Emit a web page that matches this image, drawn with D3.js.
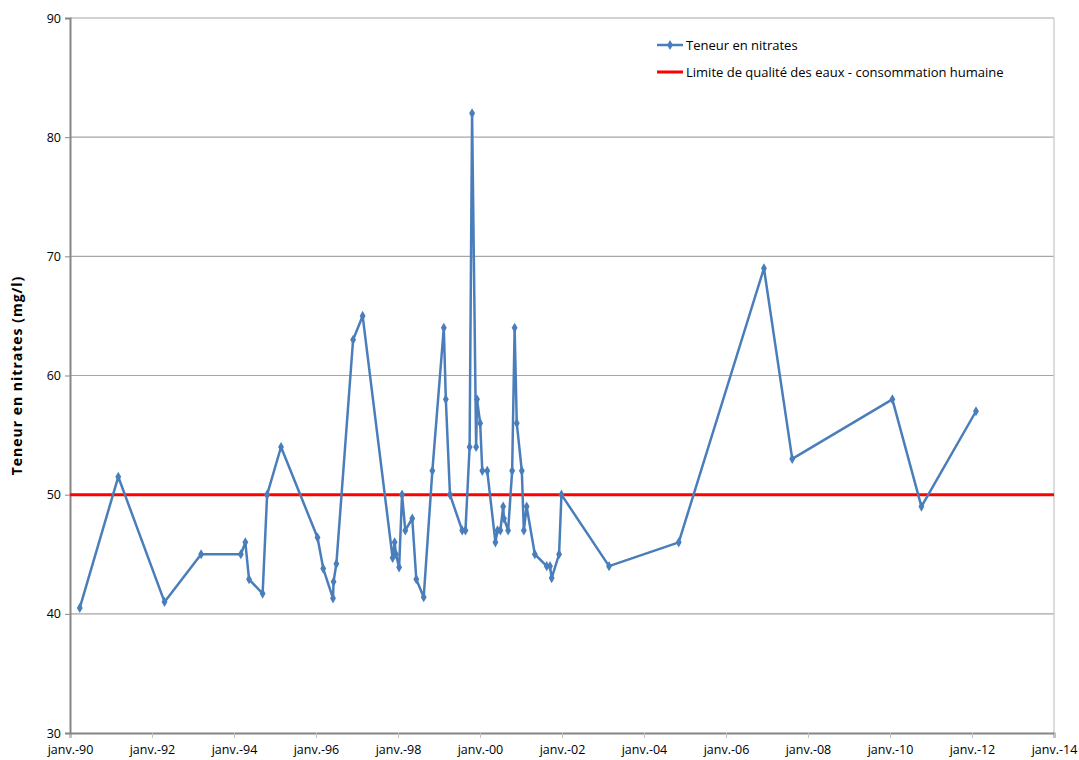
<!DOCTYPE html>
<html>
<head>
<meta charset="utf-8">
<script src="https://cdn.jsdelivr.net/npm/d3@7"></script>
<style>
  body { margin: 0; background: #fff; }
  svg text { font-family: "Open Sans", "DejaVu Sans", sans-serif; fill: #000; }
</style>
</head>
<body>
<svg id="chart" width="1079" height="760"></svg>
<script>
// relevés de nitrates (date, mg/l)
var dates = ["1990-03-29","1991-03-07","1992-04-22","1993-03-14","1994-03-03","1994-04-12","1994-05-15",
  "1994-09-13","1994-10-23","1995-02-24","1996-01-15","1996-03-06","1996-06-01","1996-06-06","1996-07-01",
  "1996-11-27","1997-02-20","1997-11-14","1997-12-02","1997-12-14","1998-01-11","1998-02-06","1998-03-07",
  "1998-05-08","1998-06-13","1998-08-18","1998-11-03","1999-02-13","1999-03-03","1999-04-09","1999-07-27",
  "1999-08-25","1999-10-01","1999-10-23","1999-11-28","1999-12-06","2000-01-03","2000-01-22","2000-03-06",
  "2000-05-18","2000-06-05","2000-07-01","2000-07-26","2000-08-02","2000-09-08","2000-10-14","2000-11-05",
  "2000-11-24","2001-01-08","2001-01-26","2001-02-20","2001-05-04","2001-08-18","2001-09-16","2001-10-01",
  "2001-12-06","2001-12-27","2003-02-24","2004-11-06","2006-12-05","2007-08-14","2010-01-22","2010-10-08",
  "2012-02-06"];
var nitrates = [40.5,51.5,41,45,45,46,42.9,
  41.7,50,54,46.4,43.8,41.3,42.7,44.2,
  63,65,44.7,46,45,43.9,50,47,
  48,42.9,41.4,52,64,58,50,47,
  47,54,82,54,58,56,52,52,
  46,47,47,49,48,47,52,64,
  56,52,47,49,45,44,44,43,
  45,50,44,46,69,53,58,49,
  57];
var limite = 50;
var yTicks = [30, 40, 50, 60, 70, 80, 90];
var seriesNames = ["Teneur en nitrates", "Limite de qualité des eaux - consommation humaine"];

var parse = d3.timeParse("%Y-%m-%d");
var data = dates.map(function (d, i) { return { date: parse(d), value: nitrates[i] }; });

var margin = { left: 70, right: 25, top: 18, bottom: 27 };
var svg = d3.select('#chart');
var W = +svg.attr('width'), H = +svg.attr('height');

var x = d3.scaleTime()
  .domain([new Date(1990, 0, 1), new Date(2014, 0, 1)])
  .range([margin.left, W - margin.right]);
var y = d3.scaleLinear()
  .domain([30, 90])
  .range([H - margin.bottom, margin.top]);

var fmtMois = function (d) { return "janv.-" + d3.timeFormat("%y")(d); };

// grille horizontale
svg.append('g').selectAll('line')
  .data(yTicks.slice(1))
  .enter().append('line')
  .attr('x1', margin.left).attr('x2', W - margin.right)
  .attr('y1', function (d) { return y(d); }).attr('y2', function (d) { return y(d); })
  .attr('stroke', '#a6a6a6').attr('stroke-width', 1.2);

// bord droit
svg.append('line')
  .attr('x1', W - margin.right).attr('x2', W - margin.right)
  .attr('y1', y(90)).attr('y2', y(30))
  .attr('stroke', '#d0d0d0').attr('stroke-width', 1.5);

// axes
var xAxis = svg.append('g')
  .attr('transform', 'translate(0,' + y(30) + ')')
  .call(d3.axisBottom(x).ticks(d3.timeYear.every(2)).tickFormat(fmtMois).tickSize(5).tickPadding(7));
var yAxis = svg.append('g')
  .attr('transform', 'translate(' + margin.left + ',0)')
  .call(d3.axisLeft(y).tickValues(yTicks).tickSize(5).tickPadding(4));

[xAxis, yAxis].forEach(function (a) {
  a.select('.domain').attr('stroke', '#868686').attr('stroke-width', 2);
  a.selectAll('.tick line').attr('stroke', '#868686');
  a.selectAll('.tick text').style('font-size', '12.5px');
});
xAxis.selectAll('.tick line').attr('stroke', '#c0c0c0');

svg.append('text')
  .attr('transform', 'translate(22,' + ((y(30) + y(90)) / 2) + ') rotate(-90)')
  .attr('text-anchor', 'middle')
  .style('font-size', '14px')
  .style('font-weight', 'bold')
  .style('letter-spacing', '1px')
  .text("Teneur en nitrates (mg/l)");

// limite 50 mg/l
svg.append('line')
  .attr('x1', margin.left).attr('x2', W - margin.right)
  .attr('y1', y(limite)).attr('y2', y(limite))
  .attr('stroke', '#ff0000').attr('stroke-width', 3);

// série
var line = d3.line()
  .x(function (d) { return x(d.date); })
  .y(function (d) { return y(d.value); });

svg.append('path')
  .datum(data)
  .attr('d', line)
  .attr('fill', 'none')
  .attr('stroke', '#4a7ebb')
  .attr('stroke-width', 2.5)
  .attr('stroke-linejoin', 'round');

var diamond = d3.symbol().type(d3.symbolDiamond).size(30);
svg.append('g').selectAll('path')
  .data(data)
  .enter().append('path')
  .attr('d', diamond)
  .attr('transform', function (d) { return 'translate(' + x(d.date) + ',' + y(d.value) + ')'; })
  .attr('fill', '#4a7ebb');

// légende
var legend = svg.append('g').attr('transform', 'translate(657,45)');
var items = legend.selectAll('g')
  .data(seriesNames)
  .enter().append('g')
  .attr('transform', function (d, i) { return 'translate(0,' + i * 27 + ')'; });
items.append('line')
  .attr('x1', 0).attr('x2', 26)
  .attr('stroke', function (d, i) { return i ? '#ff0000' : '#4a7ebb'; })
  .attr('stroke-width', function (d, i) { return i ? 3 : 2.5; });
items.filter(function (d, i) { return i === 0; })
  .append('path')
  .attr('d', diamond)
  .attr('transform', 'translate(13,0)')
  .attr('fill', '#4a7ebb');
items.append('text')
  .attr('x', 29).attr('dy', '0.35em')
  .style('font-size', '13px')
  .text(function (d) { return d; });
</script>
</body>
</html>
